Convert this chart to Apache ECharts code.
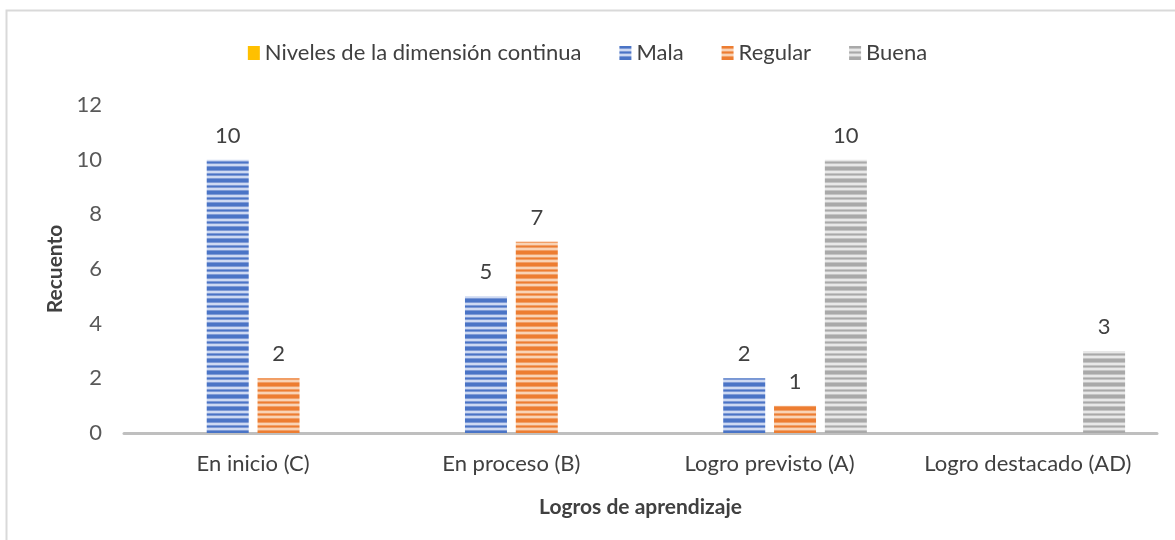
<!DOCTYPE html>
<html lang="es">
<head>
    <meta charset="UTF-8">
    <title>Logros de aprendizaje</title>
    <script src="https://cdn.jsdelivr.net/npm/echarts@6/dist/echarts.min.js"></script>
    <style>
        html, body { margin: 0; padding: 0; background: #fff; }
    </style>
</head>
<body>
<div id="main" style="width: 1175px;height:540px;"></div>
<script>
    var categorias = ['En inicio (C)', 'En proceso (B)', 'Logro previsto (A)', 'Logro destacado (AD)'];
    var niveles = [null, null, null, null];
    var mala = [10, 5, 2, null];
    var regular = [2, 7, 1, null];
    var buena = [null, null, 10, 3];
    var yTicks = [0, 2, 4, 6, 8, 10, 12];

    // patron de rayas horizontales parecido al de Excel
    function rayas(oscuro, medio, claro) {
        var c = document.createElement('canvas');
        c.width = 8; c.height = 12;
        var ctx = c.getContext('2d');
        var filas = [oscuro, oscuro, medio, claro, claro, medio, oscuro, medio, claro, claro, medio, oscuro];
        for (var i = 0; i < filas.length; i++) {
            ctx.fillStyle = filas[i];
            ctx.fillRect(0, i, 8, 1);
        }
        return { image: c, repeat: 'repeat' };
    }

    var etiqueta = {
        show: true,
        position: 'top',
        distance: 13,
        color: '#404040',
        fontSize: 22,
        fontFamily: 'Lato'
    };

    var myChart = echarts.init(document.getElementById('main'));
    var option = {
        animation: false,
        textStyle: { fontFamily: 'Lato' },
        graphic: [{
            type: 'rect',
            shape: { x: 6.5, y: 10.5, width: 1180, height: 540 },
            style: { fill: null, stroke: '#d9d9d9', lineWidth: 2 },
            silent: true
        }],
        legend: {
            top: 37,
            left: 'center',
            itemWidth: 12,
            itemHeight: 14,
            itemGap: 38,
            icon: 'rect',
            textStyle: { fontSize: 22, color: '#404040', fontFamily: 'Lato' },
            data: ['Niveles de la dimensión continua', 'Mala', 'Regular', 'Buena']
        },
        grid: {
            left: 124,
            right: 18,
            top: 105,
            bottom: 107
        },
        xAxis: {
            type: 'category',
            data: categorias,
            name: 'Logros de aprendizaje',
            nameLocation: 'middle',
            nameGap: 64,
            nameTextStyle: { fontSize: 21, fontWeight: 'bold', color: '#404040' },
            axisLine: { lineStyle: { color: '#bfbfbf', width: 3 } },
            axisTick: { show: false },
            axisLabel: { interval: 0, fontSize: 22, color: '#404040', margin: 20 }
        },
        yAxis: {
            type: 'value',
            min: yTicks[0],
            max: yTicks[yTicks.length - 1],
            interval: 2,
            name: 'Recuento',
            nameLocation: 'middle',
            nameGap: 56,
            nameTextStyle: { fontSize: 21, fontWeight: 'bold', color: '#404040' },
            splitLine: { show: false },
            axisLine: { show: false },
            axisTick: { show: false },
            axisLabel: { fontSize: 22, color: '#595959', margin: 22 }
        },
        series: [
            {
                name: 'Niveles de la dimensión continua',
                type: 'bar',
                data: niveles,
                barWidth: 42,
                barGap: '21%',
                itemStyle: { color: '#ffc000' }
            },
            {
                name: 'Mala',
                type: 'bar',
                data: mala,
                barWidth: 42,
                barGap: '21%',
                itemStyle: { color: rayas('#4a74c6', '#7e9ad6', '#cdd9f2') },
                label: etiqueta
            },
            {
                name: 'Regular',
                type: 'bar',
                data: regular,
                barWidth: 42,
                barGap: '21%',
                itemStyle: { color: rayas('#ed7d31', '#f19f67', '#f9d3b5') },
                label: etiqueta
            },
            {
                name: 'Buena',
                type: 'bar',
                data: buena,
                barWidth: 42,
                barGap: '21%',
                itemStyle: { color: rayas('#a9a9a9', '#c4c4c4', '#e8e8e8') },
                label: etiqueta
            }
        ]
    };
    myChart.setOption(option);
</script>
</body>
</html>
